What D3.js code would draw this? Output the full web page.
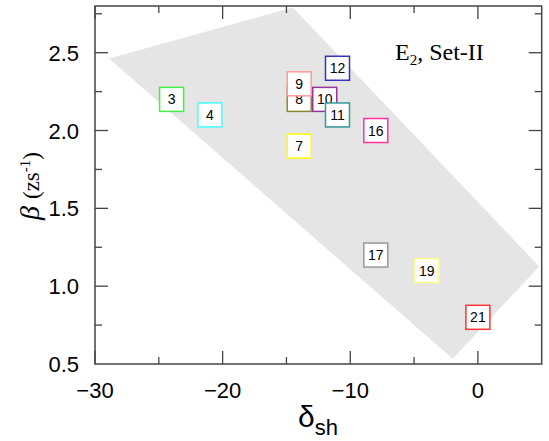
<!DOCTYPE html>
<html>
<head>
<meta charset="utf-8">
<script src="https://cdn.jsdelivr.net/npm/d3@7"></script>
<style>
  body { margin: 0; background: #fff; }
  svg { display: block; }
</style>
</head>
<body>
<svg id="chart"></svg>
<script>
// nuclei labels and their (deltaSh, beta) positions
var labels = ["3", "4", "7", "8", "9", "10", "11", "12", "16", "17", "19", "21"];
var deltaSh = [-24, -21, -14, -14, -14, -12, -11, -11, -8, -8, -4, 0];
var beta = [2.2, 2.1, 1.9, 2.2, 2.3, 2.2, 2.1, 2.4, 2.0, 1.2, 1.1, 0.8];
var boxColors = ["#44ee44", "#44ffff", "#ffff00", "#888833", "#ff9999", "#993399",
                 "#339999", "#3333bb", "#ff3399", "#999999", "#ffff88", "#ff3333"];

// grey region corners
var regionX = [-28.9, -14.5, 4.8, -1.97];
var regionY = [2.463, 2.79, 1.127, 0.533];

var xMajor = [-30, -20, -10, 0];
var yMajor = [0.5, 1.0, 1.5, 2.0, 2.5];

var W = 549, H = 441;
var margin = {left: 95, right: 7.3, top: 6, bottom: 77};

var svg = d3.select("#chart").attr("width", W).attr("height", H);

var xScale = d3.scaleLinear()
    .domain([-30, 5])
    .range([margin.left, W - margin.right]);
var yScale = d3.scaleLinear()
    .domain([0.5, 2.8])
    .range([H - margin.bottom, margin.top]);

var x0 = xScale.range()[0], x1 = xScale.range()[1];
var y0 = yScale.range()[0], y1 = yScale.range()[1];

//grey region
var pts = regionX.map(function(v, i){ return [v, regionY[i]]; });
svg.append("path")
    .attr("d", d3.line()
        .x(function(d){ return xScale(d[0]); })
        .y(function(d){ return yScale(d[1]); })(pts) + "Z")
    .attr("fill", "#e5e5e5");

//Define fnc to draw inward ticks on one side
var axisColor = "#444";
var drawTicks = function(vals, len, side)
{
    vals.forEach(function(v){
        var line = svg.append("line")
            .attr("stroke", axisColor)
            .attr("stroke-width", 1.3);
        if (side == "bottom") line.attr("x1", xScale(v)).attr("x2", xScale(v)).attr("y1", y0).attr("y2", y0 - len);
        if (side == "top") line.attr("x1", xScale(v)).attr("x2", xScale(v)).attr("y1", y1).attr("y2", y1 + len);
        if (side == "left") line.attr("y1", yScale(v)).attr("y2", yScale(v)).attr("x1", x0).attr("x2", x0 + len);
        if (side == "right") line.attr("y1", yScale(v)).attr("y2", yScale(v)).attr("x1", x1).attr("x2", x1 - len);
    });
}

var xMinor = d3.range(-25, 5, 10);
var yMinor = d3.range(0.75, 2.8, 0.5);
["bottom", "top"].forEach(function(s){
    drawTicks(xMajor, 13, s);
    drawTicks(xMinor, 7, s);
});
["left", "right"].forEach(function(s){
    drawTicks(yMajor.filter(function(v){ return v > 0.5; }), 13, s);
    drawTicks(yMinor, 7, s);
});

//frame
svg.append("rect")
    .attr("x", x0).attr("y", y1)
    .attr("width", x1 - x0).attr("height", y0 - y1)
    .attr("fill", "none")
    .attr("stroke", axisColor)
    .attr("stroke-width", 1.5);

//tick labels
svg.selectAll(".xlab")
    .data(xMajor)
    .enter()
    .append("text")
    .attr("x", function(d){ return xScale(d); })
    .attr("y", y0 + 34)
    .attr("text-anchor", "middle")
    .style("font", "22px 'Liberation Sans', Arial, sans-serif")
    .text(d3.format("d"));

svg.selectAll(".ylab")
    .data(yMajor)
    .enter()
    .append("text")
    .attr("x", 79)
    .attr("y", function(d){ return yScale(d) + 8; })
    .attr("text-anchor", "end")
    .style("font", "22px 'Liberation Sans', Arial, sans-serif")
    .text(d3.format(".1f"));

//axis titles
var xt = svg.append("text")
    .attr("x", 318).attr("y", 427)
    .attr("text-anchor", "middle")
    .style("font", "30px 'Liberation Sans', Arial, sans-serif");
xt.append("tspan").text("δ");
xt.append("tspan").attr("dy", 8).style("font-size", "22px").text("sh");

var yt = svg.append("text")
    .attr("transform", "translate(39,186) rotate(-90)")
    .attr("text-anchor", "middle")
    .style("font", "23px 'Liberation Serif', 'Times New Roman', serif");
yt.append("tspan").style("font-style", "italic").style("font-size", "28px").text("β ");
yt.append("tspan").text("(zs");
yt.append("tspan").attr("dy", -9).style("font-size", "15px").text("-1");
yt.append("tspan").attr("dy", 9).text(")");

//annotation
var ann = svg.append("text")
    .attr("x", 395).attr("y", 60)
    .style("font", "24px 'Liberation Serif', 'Times New Roman', serif");
ann.append("tspan").text("E");
ann.append("tspan").attr("dy", 5).style("font-size", "15px").text("2");
ann.append("tspan").attr("dy", -5).text(", Set-II");

//labelled boxes
var box = 24;
var points = labels.map(function(l, i){
    return {label: l, x: deltaSh[i], y: beta[i], color: boxColors[i]};
});
var g = svg.selectAll(".pt")
    .data(points)
    .enter()
    .append("g")
    .attr("transform", function(d){ return "translate(" + xScale(d.x) + "," + yScale(d.y) + ")"; });
g.append("rect")
    .attr("x", -box / 2).attr("y", -box / 2)
    .attr("width", box).attr("height", box)
    .attr("fill", "#fff")
    .attr("stroke", function(d){ return d.color; })
    .attr("stroke-width", 1.5);
g.append("text")
    .attr("y", 5)
    .attr("text-anchor", "middle")
    .style("font", "14px 'Liberation Sans', Arial, sans-serif")
    .text(function(d){ return d.label; });
</script>
</body>
</html>
